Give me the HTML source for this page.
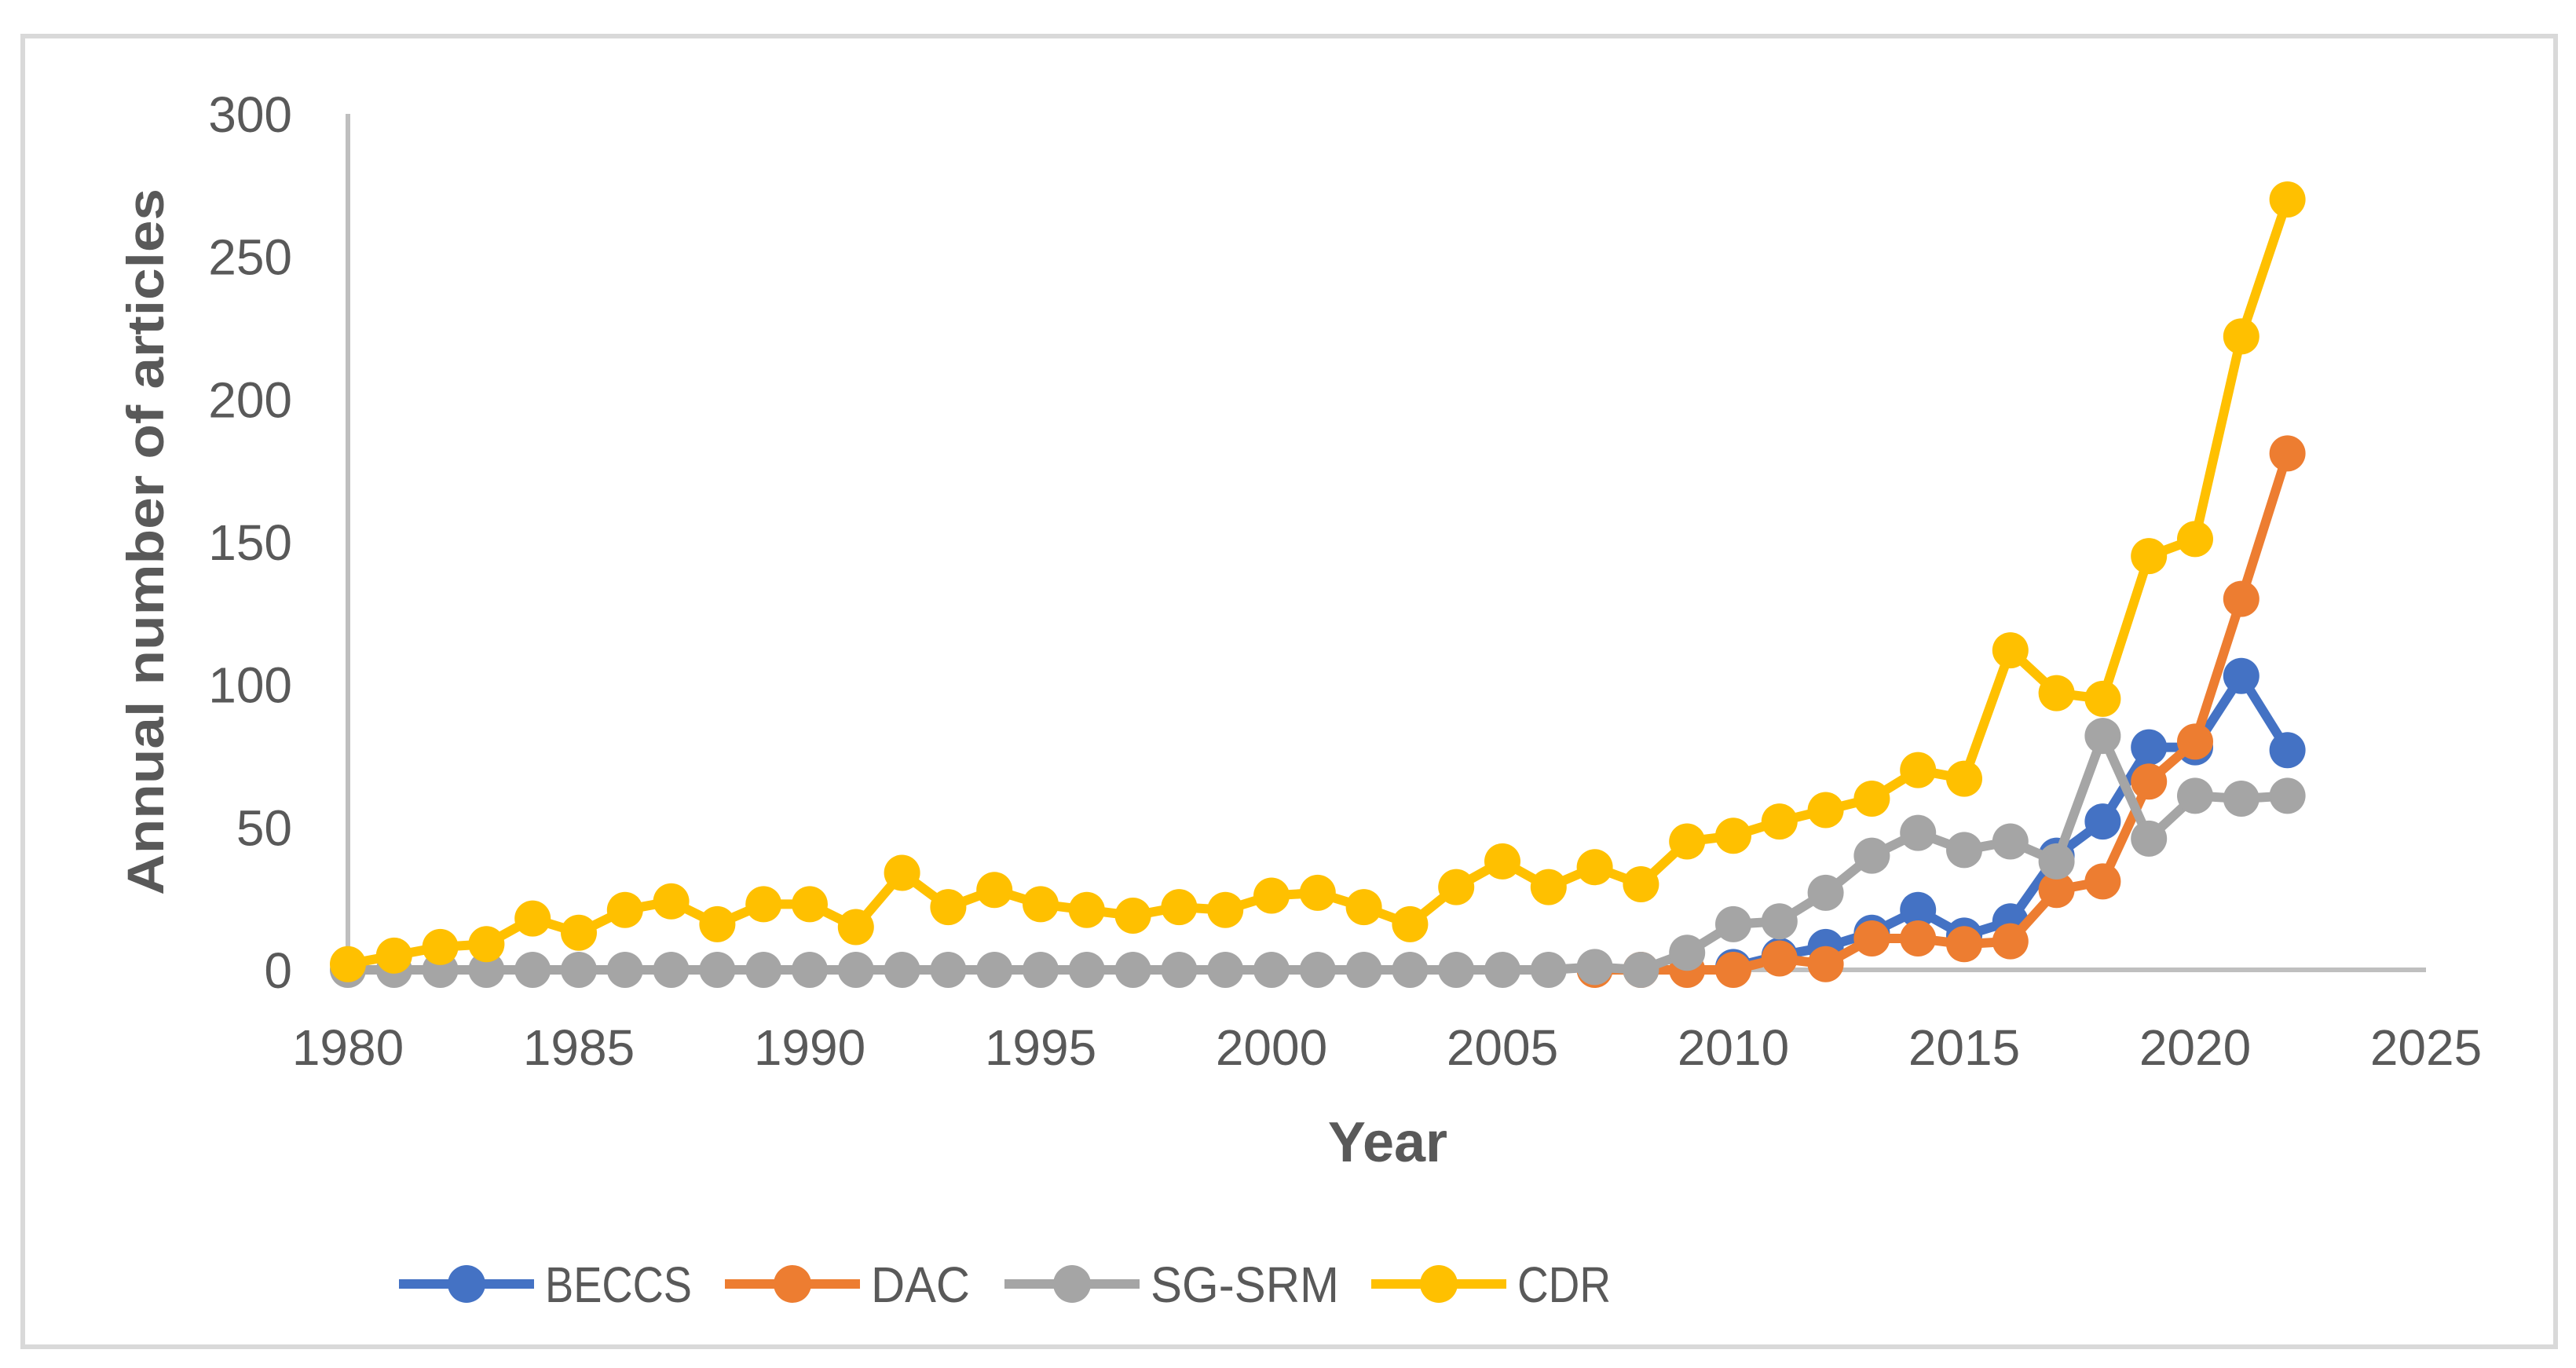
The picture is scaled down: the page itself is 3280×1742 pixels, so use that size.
<!DOCTYPE html>
<html><head><meta charset="utf-8"><style>
html,body{margin:0;padding:0;background:#fff;}
svg{display:block;font-family:"Liberation Sans",sans-serif;}
</style></head><body>
<svg id="chart" width="3280" height="1742" viewBox="0 0 3280 1742">
<rect x="29" y="46" width="3225" height="1669" fill="#fff" stroke="#d9d9d9" stroke-width="6"/>
<g id="yticks"></g>
<g id="xticks"></g>
<line id="yaxis" stroke="#bfbfbf" stroke-width="6"/>
<line id="xaxis" stroke="#bfbfbf" stroke-width="6"/>
<g id="series"></g>
<text x="0" y="0" transform="translate(208,690) rotate(-90)" text-anchor="middle" font-size="66" font-weight="bold" fill="#595959" textLength="900" lengthAdjust="spacingAndGlyphs">Annual number of articles</text>
<text x="1767" y="1479" text-anchor="middle" font-size="72" font-weight="bold" fill="#595959">Year</text>
<g id="legend"></g>
</svg>
<script>
const years = [1980,1981,1982,1983,1984,1985,1986,1987,1988,1989,1990,1991,1992,1993,1994,1995,1996,1997,1998,1999,2000,2001,2002,2003,2004,2005,2006,2007,2008,2009,2010,2011,2012,2013,2014,2015,2016,2017,2018,2019,2020,2021,2022];
const cdr = [2,5,8,9,18,13,21,24,16,23,23,15,34,22,28,23,21,19,22,21,26,27,22,16,29,38,29,36,30,45,47,52,56,60,70,67,112,97,95,145,151,222,270];
const sgsrm = [0,0,0,0,0,0,0,0,0,0,0,0,0,0,0,0,0,0,0,0,0,0,0,0,0,0,0,1,0,6,16,17,27,40,48,42,45,38,82,46,61,60,61];
const beccsYears = [2010,2011,2012,2013,2014,2015,2016,2017,2018,2019,2020,2021,2022];
const beccs = [1,5,8,13,21,12,17,40,52,78,78,103,77];
const dacYears = [2007,2008,2009,2010,2011,2012,2013,2014,2015,2016,2017,2018,2019,2020,2021,2022];
const dac = [0,0,0,0,4,2,11,11,9,10,28,31,66,80,130,181];
const yTicks = [0,50,100,150,200,250,300];
const xTicks = [1980,1985,1990,1995,2000,2005,2010,2015,2020,2025];
const legendLabels = ["BECCS","DAC","SG-SRM","CDR"];

const NS = "http://www.w3.org/2000/svg";
const X0 = 443, XPER = 58.8, Y0 = 1235, YPER = 1090/300;
function xs(v){return X0 + (v-1980)*XPER;}
function ys(v){return Y0 - v*YPER;}
function mk(tag, attrs, parent){const e=document.createElementNS(NS,tag);for(const k in attrs)e.setAttribute(k,attrs[k]);parent.appendChild(e);return e;}

const ya=document.getElementById('yaxis');
ya.setAttribute('x1',xs(1980));ya.setAttribute('x2',xs(1980));ya.setAttribute('y1',ys(300));ya.setAttribute('y2',ys(0));
const xa=document.getElementById('xaxis');
xa.setAttribute('x1',xs(1980));xa.setAttribute('x2',xs(2025));xa.setAttribute('y1',ys(0));xa.setAttribute('y2',ys(0));

const yg=document.getElementById('yticks');
yTicks.forEach(v=>{
  const t=mk('text',{x:372,y:ys(v)+23,'text-anchor':'end','font-size':64,fill:'#595959'},yg);
  
  
  t.textContent=v;
});
const xg=document.getElementById('xticks');
xTicks.forEach(v=>{
  const t=mk('text',{x:xs(v),y:1356,'text-anchor':'middle','font-size':64,fill:'#595959'},xg);
  
  
  t.textContent=v;
});

const sg=document.getElementById('series');
function drawSeries(name,xv,yv,color){
  const g=mk('g',{},sg);
  
  
  const pts=xv.map((x,i)=>xs(x)+','+ys(yv[i])).join(' ');
  const pl=mk('polyline',{points:pts,fill:'none',stroke:color,'stroke-width':12,'stroke-linejoin':'round'},g);
  
  
  xv.forEach((x,i)=>{
    const c=mk('circle',{cx:xs(x),cy:ys(yv[i]),r:23,fill:color},g);
    
    
  });
}
drawSeries('beccs',beccsYears,beccs,'#4472c4');
drawSeries('dac',dacYears,dac,'#ed7d31');
drawSeries('sg-srm',years,sgsrm,'#a5a5a5');
drawSeries('cdr',years,cdr,'#ffc000');

const lg=document.getElementById('legend');
const lcolors=['#4472c4','#ed7d31','#a5a5a5','#ffc000'];
const lx=[508,923,1279,1746], tw=[187,126,240,119];
legendLabels.forEach((lab,i)=>{
  const g=mk('g',{},lg);
  
  
  mk('line',{x1:lx[i],x2:lx[i]+172,y1:1635,y2:1635,stroke:lcolors[i],'stroke-width':12},g);
  mk('circle',{cx:lx[i]+86,cy:1635,r:24,fill:lcolors[i]},g);
  const t=mk('text',{x:lx[i]+186,y:1658,'font-size':64,fill:'#595959',textLength:tw[i],lengthAdjust:'spacingAndGlyphs'},g);
  t.textContent=lab;
});
</script>
</body></html>
